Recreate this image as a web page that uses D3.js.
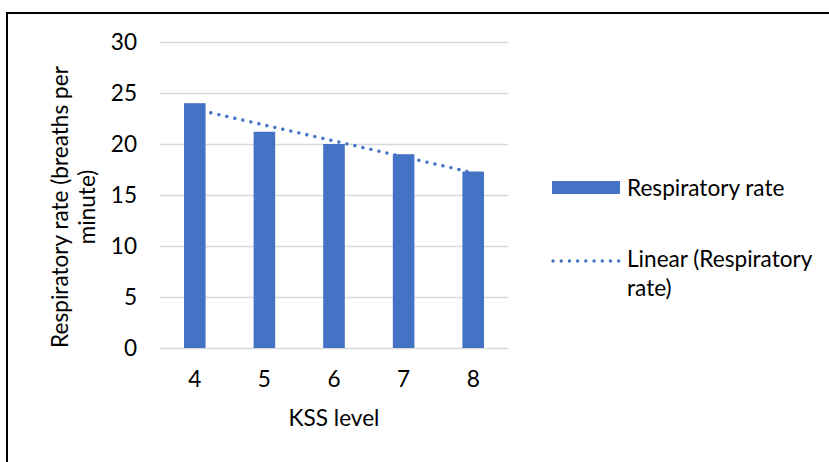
<!DOCTYPE html>
<html>
<head>
<meta charset="utf-8">
<script src="https://cdn.jsdelivr.net/npm/d3@7"></script>
<style>
  html, body { margin: 0; padding: 0; background: #fff; }
  svg { display: block; }
  text { font-family: Lato, "Open Sans", sans-serif; fill: #000; }
</style>
</head>
<body>
<svg id="chart" width="829" height="462"></svg>
<script>
// KSS levels and mean respiratory rate (breaths per minute)
const kssLevels = ["4", "5", "6", "7", "8"];
const respiratoryRate = [24.0, 21.2, 20.0, 19.0, 17.3];
const yTicks = [0, 5, 10, 15, 20, 25, 30];
const seriesName = "Respiratory rate";
const trendName = ["Linear (Respiratory", "rate)"];
const xTitle = "KSS level";
const yTitle = ["Respiratory rate (breaths per", "minute)"];

const W = 829, H = 462;
const plot = { left: 160, right: 508, top: 42, bottom: 348 };
const fontSize = 22.6;
const barColor = "#4472C4";

const svg = d3.select("#chart");

// outer frame (top and left edges)
svg.append("path")
  .attr("d", `M7,${H + 2} L7,13 L${W + 2},13`)
  .attr("fill", "none").attr("stroke", "#000").attr("stroke-width", 2);

const x = d3.scaleBand()
  .domain(kssLevels)
  .range([plot.left, plot.right])
  .paddingInner(0.69)
  .paddingOuter(0.345);

const y = d3.scaleLinear()
  .domain([0, 30])
  .range([plot.bottom, plot.top]);

// y axis with gridlines
const yAxis = svg.append("g")
  .attr("transform", `translate(${plot.left},0)`)
  .call(d3.axisLeft(y).tickValues(yTicks)
    .tickSizeInner(-(plot.right - plot.left)).tickSizeOuter(0).tickPadding(23));
yAxis.select(".domain").remove();
yAxis.selectAll(".tick line").attr("stroke", "#D9D9D9").attr("stroke-width", 1.5);
yAxis.selectAll(".tick text")
  .style("font-family", "Lato, sans-serif").style("font-size", fontSize + "px").attr("fill", "#000");

// x axis labels
const xAxis = svg.append("g")
  .attr("transform", `translate(0,${plot.bottom})`)
  .call(d3.axisBottom(x).tickSize(0).tickPadding(23));
xAxis.select(".domain").remove();
xAxis.selectAll(".tick text")
  .style("font-family", "Lato, sans-serif").style("font-size", fontSize + "px").attr("fill", "#000");

// least-squares linear trend over the category positions
const n = respiratoryRate.length;
const idx = d3.range(n);
const mx = d3.mean(idx), my = d3.mean(respiratoryRate);
const slope = d3.sum(idx, i => (i - mx) * (respiratoryRate[i] - my)) / d3.sum(idx, i => (i - mx) ** 2);
const intercept = my - slope * mx;
const trend = idx.map(i => ({ k: kssLevels[i], v: intercept + slope * i }));

const dotted = { "stroke": barColor, "stroke-width": 3.4, "stroke-linecap": "round", "stroke-dasharray": "0.01 8.2" };

const trendLine = svg.append("path")
  .datum(trend)
  .attr("fill", "none")
  .attr("d", d3.line().x(d => x(d.k) + x.bandwidth() / 2).y(d => y(d.v)));
Object.entries(dotted).forEach(([k, v]) => trendLine.attr(k, v));

// bars (drawn over the trend line)
svg.append("g").selectAll("rect")
  .data(kssLevels.map((k, i) => ({ k, v: respiratoryRate[i] })))
  .join("rect")
  .attr("x", d => x(d.k))
  .attr("width", x.bandwidth())
  .attr("y", d => y(d.v))
  .attr("height", d => y(0) - y(d.v))
  .attr("fill", barColor);

// axis titles
svg.append("text")
  .attr("x", 334).attr("y", 426)
  .attr("text-anchor", "middle")
  .style("font-size", fontSize + "px")
  .text(xTitle);

const yT = svg.append("g");
yTitle.forEach((line, i) => {
  yT.append("text")
    .attr("transform", `translate(${68 + i * 27},207) rotate(-90)`)
    .attr("text-anchor", "middle")
    .style("font-size", fontSize + "px")
    .text(line);
});

// legend
const lg = svg.append("g");
lg.append("rect")
  .attr("x", 552).attr("y", 181).attr("width", 68).attr("height", 13)
  .attr("fill", barColor);
lg.append("text").attr("x", 627).attr("y", 196)
  .style("font-size", fontSize + "px").text(seriesName);

const lgLine = lg.append("line")
  .attr("x1", 553).attr("x2", 620).attr("y1", 261).attr("y2", 261);
Object.entries(dotted).forEach(([k, v]) => lgLine.attr(k, v));
trendName.forEach((line, i) => {
  lg.append("text").attr("x", 627).attr("y", 267 + i * 29)
    .style("font-size", fontSize + "px").text(line);
});
</script>
</body>
</html>
